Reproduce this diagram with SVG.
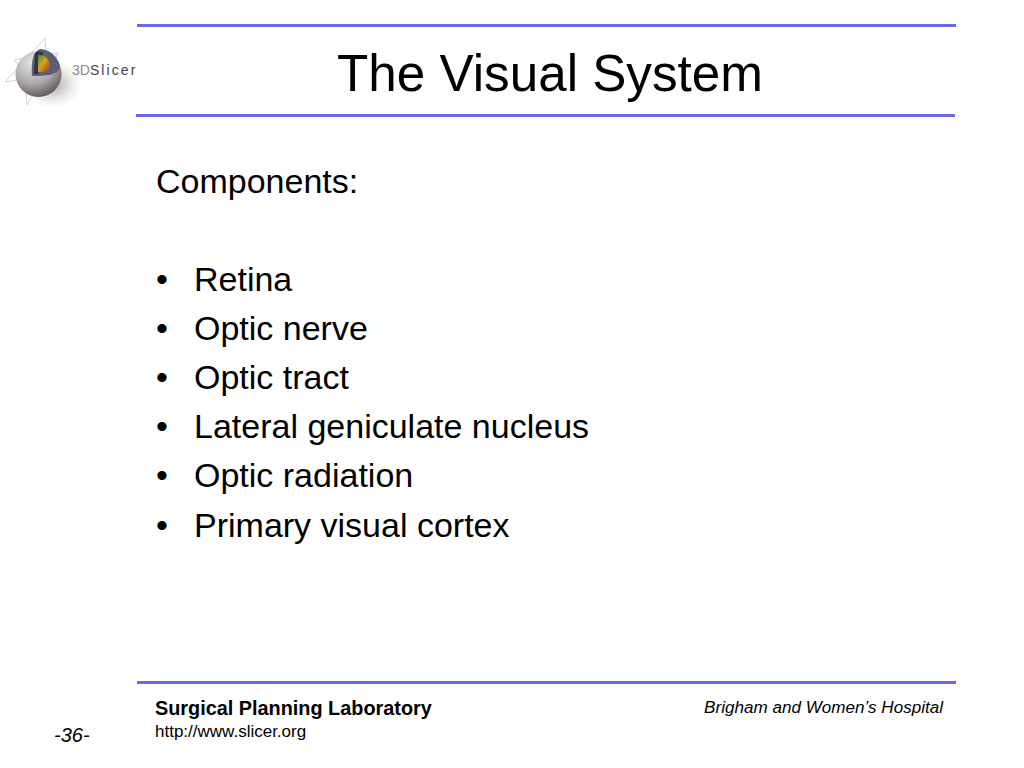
<svg xmlns="http://www.w3.org/2000/svg" width="1024" height="768" viewBox="0 0 1024 768">
<defs>
<radialGradient id="ball" cx="0.38" cy="0.25" r="0.85"><stop offset="0" stop-color="#e8e8e8"/><stop offset="0.55" stop-color="#aca8a8"/><stop offset="1" stop-color="#4e4646"/></radialGradient>
<radialGradient id="shadow" cx="0.5" cy="0.5" r="0.5"><stop offset="0" stop-color="#777" stop-opacity="0.7"/><stop offset="1" stop-color="#bbb" stop-opacity="0"/></radialGradient>
<linearGradient id="spec" x1="0" y1="0" x2="1" y2="1"><stop offset="0" stop-color="#3c8a3c"/><stop offset="0.45" stop-color="#d8a020"/><stop offset="1" stop-color="#b03018"/></linearGradient>
</defs>
<style>
.rule{fill:#6a6ae6}
text{font-family:"Liberation Sans",Arial,sans-serif;fill:#000}
.body{font-size:34px}
</style>
<rect width="1024" height="768" fill="#fff"/>
<rect class="rule" x="137" y="24" width="819" height="3"/>
<rect class="rule" x="136" y="114" width="819" height="3"/>
<rect class="rule" x="137" y="681" width="819" height="3"/>
<g id="logo">
<ellipse cx="52" cy="84" rx="30" ry="24" fill="url(#shadow)"/>
<path d="M5 82L45 38L47 75ZM14 60L58 53L42 92ZM27 105L58 53M27 105L24 70" fill="none" stroke="#d4d4d4" stroke-width="1"/>
<circle cx="38.500" cy="74" r="23" fill="url(#ball)"/>
<path d="M32 76C31 62 33 50 41 49C52 50 60 60 60 68C57 75 47 76 32 76Z" fill="#5a5f72"/>
<path d="M35 53C38 51 41 51 43 53L38 74L34 74Z" fill="#2f3345"/>
<path d="M38 55C45 54 50 60 50 66C50 70 46 72 38 72Z" fill="url(#spec)"/>
<text x="72" y="74.500" font-size="14px"><tspan fill="#8a8a8a">3D</tspan><tspan fill="#444" letter-spacing="2.100">Slicer</tspan></text>
</g>
<text x="550" y="91" text-anchor="middle" font-size="51.200px">The Visual System</text>
<text class="body" x="156" y="193">Components:</text>
<g id="bullets">
<text class="body" x="156" y="290.500">•</text><text class="body" x="194" y="290.500">Retina</text>
<text class="body" x="156" y="339.500">•</text><text class="body" x="194" y="339.500">Optic nerve</text>
<text class="body" x="156" y="388.500">•</text><text class="body" x="194" y="388.500">Optic tract</text>
<text class="body" x="156" y="438">•</text><text class="body" x="194" y="438">Lateral geniculate nucleus</text>
<text class="body" x="156" y="487">•</text><text class="body" x="194" y="487">Optic radiation</text>
<text class="body" x="156" y="536.500">•</text><text class="body" x="194" y="536.500">Primary visual cortex</text>
</g>
<text x="155" y="715" font-size="19.850px" font-weight="bold">Surgical Planning Laboratory</text>
<text x="155" y="737" font-size="17px">http://www.slicer.org</text>
<text x="943" y="713" text-anchor="end" font-size="17.080px" font-style="italic">Brigham and Women’s Hospital</text>
<text x="54" y="742" font-size="20px" font-style="italic">-36-</text>
</svg>
